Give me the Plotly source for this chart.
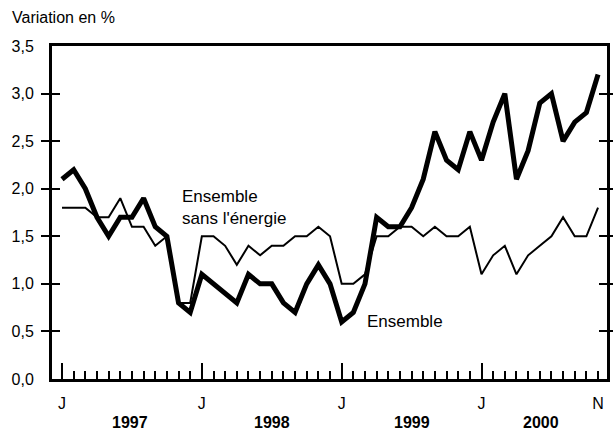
import plotly.graph_objects as go

# Monthly data, Jan 1997 .. Nov 2000 (47 months)
months = list(range(47))
ensemble = [2.1, 2.2, 2.0, 1.7, 1.5, 1.7, 1.7, 1.9, 1.6, 1.5, 0.8, 0.7,
            1.1, 1.0, 0.9, 0.8, 1.1, 1.0, 1.0, 0.8, 0.7, 1.0, 1.2, 1.0,
            0.6, 0.7, 1.0, 1.7, 1.6, 1.6, 1.8, 2.1, 2.6, 2.3, 2.2, 2.6,
            2.3, 2.7, 3.0, 2.1, 2.4, 2.9, 3.0, 2.5, 2.7, 2.8, 3.2]
sans_energie = [1.8, 1.8, 1.8, 1.7, 1.7, 1.9, 1.6, 1.6, 1.4, 1.5, 0.8, 0.8,
                1.5, 1.5, 1.4, 1.2, 1.4, 1.3, 1.4, 1.4, 1.5, 1.5, 1.6, 1.5,
                1.0, 1.0, 1.1, 1.5, 1.5, 1.6, 1.6, 1.5, 1.6, 1.5, 1.5, 1.6,
                1.1, 1.3, 1.4, 1.1, 1.3, 1.4, 1.5, 1.7, 1.5, 1.5, 1.8]
month_labels = {0: "J", 12: "J", 24: "J", 36: "J", 46: "N"}
january_ticks = [0, 12, 24, 36]
years = ["1997", "1998", "1999", "2000"]
year_centers = [5.8, 18.0, 30.0, 41.1]
y_ticks = [0, 0.5, 1.0, 1.5, 2.0, 2.5, 3.0, 3.5]

FONT = "Arial, Liberation Sans, sans-serif"

fig = go.Figure()
fig.add_trace(go.Scatter(x=months, y=sans_energie, mode="lines",
                         line=dict(color="black", width=2), showlegend=False))
fig.add_trace(go.Scatter(x=months, y=ensemble, mode="lines",
                         line=dict(color="black", width=5), showlegend=False))
# invisible trace on overlay axis so its ticks render
fig.add_trace(go.Scatter(x=[0], y=[0], xaxis="x2", mode="markers",
                         marker=dict(opacity=0), showlegend=False, hoverinfo="skip"))

xr = [-0.86, 46.77]
fig.update_layout(
    width=613, height=438,
    margin=dict(l=52, r=6, t=46, b=59, autoexpand=False),
    paper_bgcolor="white", plot_bgcolor="white",
    separators=", ",
    font=dict(family=FONT, size=16, color="black"),
    xaxis=dict(
        range=xr, showgrid=False, zeroline=False,
        showline=True, linecolor="black", linewidth=3, mirror=True,
        tickvals=months, ticktext=[month_labels.get(m, "") for m in months],
        ticks="inside", ticklen=8, tickwidth=2, tickcolor="black",
        ticklabelstandoff=8,
        tickfont=dict(size=16, family=FONT),
    ),
    xaxis2=dict(
        range=xr, overlaying="x", side="bottom", anchor="y",
        showgrid=False, zeroline=False, showline=False,
        tickvals=january_ticks, ticks="inside", ticklen=16, tickwidth=2,
        tickcolor="black", showticklabels=False,
    ),
    yaxis=dict(
        range=[0, 3.5], showgrid=False, zeroline=False,
        showline=True, linecolor="black", linewidth=3, mirror="allticks",
        tickvals=y_ticks, tickformat=".1f",
        ticks="inside", ticklen=8, tickwidth=2, tickcolor="black",
        ticklabelstandoff=12,
        tickfont=dict(size=16, family=FONT),
    ),
)

annotations = [
    dict(text="Variation en %", x=-(52 - 10) / 555, y=1 + (46 - 18) / 333,
         xref="paper", yref="paper",
         showarrow=False, xanchor="left", yanchor="middle", font=dict(size=16)),
]
for yr, c in zip(years, year_centers):
    annotations.append(dict(text="<b>%s</b>" % yr, x=c, xref="x", y=-(422 - 379) / 333,
                            yref="paper", showarrow=False, yanchor="middle",
                            font=dict(size=16, family=FONT)))
annotations.append(dict(text="Ensemble<br>sans l'énergie", x=10.1, y=1.80,
                        xref="x", yref="y", showarrow=False, xanchor="left",
                        yanchor="middle", align="left", font=dict(size=17)))
annotations.append(dict(text="Ensemble", x=26.0, y=0.6, xref="x", yref="y",
                        showarrow=False, xanchor="left", yanchor="middle",
                        font=dict(size=17)))
fig.update_layout(annotations=annotations)

fig.write_html("out.html", config={"displayModeBar": False},
               post_script="document.body.style.margin='0';")
